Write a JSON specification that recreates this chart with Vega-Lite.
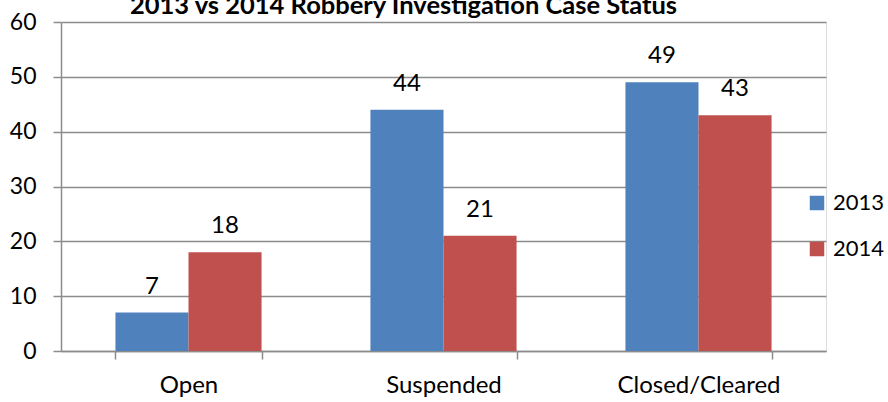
{
  "$schema": "https://vega.github.io/schema/vega-lite/v6.json",
  "width": 765,
  "height": 329,
  "autosize": {"type": "none"},
  "padding": {"left": 61, "top": 22, "right": 62, "bottom": 51},
  "background": "white",
  "title": {
    "text": "2013 vs 2014 Robbery Investigation Case Status",
    "font": "Lato",
    "fontSize": 25.5,
    "fontWeight": "bold",
    "color": "black",
    "anchor": "middle",
    "baseline": "alphabetic",
    "offset": 0,
    "dy": 28,
    "dx": -40
  },
  "data": {
    "values": [
      {"status": "Open", "year": "2013", "count": 7},
      {"status": "Open", "year": "2014", "count": 18},
      {"status": "Suspended", "year": "2013", "count": 44},
      {"status": "Suspended", "year": "2014", "count": 21},
      {"status": "Closed/Cleared", "year": "2013", "count": 49},
      {"status": "Closed/Cleared", "year": "2014", "count": 43}
    ]
  },
  "encoding": {
    "x": {
      "field": "status",
      "type": "nominal",
      "sort": ["Open", "Suspended", "Closed/Cleared"],
      "scale": {"paddingInner": 0.427, "paddingOuter": 0.2135},
      "axis": {
        "title": null,
        "labelAngle": 0,
        "labelFont": "Lato",
        "labelFontSize": 24,
        "labelColor": "black",
        "labelBaseline": "alphabetic",
        "labelPadding": 33,
        "tickBand": "extent",
        "tickSize": 8,
        "tickColor": "#8c8c8c",
        "domainColor": "#8c8c8c",
        "domainWidth": 1.5,
        "tickWidth": 1.5,
        "grid": false
      }
    },
    "xOffset": {"field": "year", "type": "nominal"},
    "y": {
      "field": "count",
      "type": "quantitative",
      "scale": {"domain": [0, 60], "nice": false},
      "axis": {
        "title": null,
        "values": [0, 10, 20, 30, 40, 50, 60],
        "labelFont": "Lato",
        "labelFontSize": 23,
        "labelColor": "black",
        "labelPadding": 17,
        "tickSize": 8,
        "tickColor": "#8c8c8c",
        "tickWidth": 1.5,
        "domainColor": "#8c8c8c",
        "domainWidth": 1.5,
        "gridColor": "#8c8c8c",
        "gridWidth": 1.5,
        "gridOpacity": 1
      }
    }
  },
  "layer": [
    {
      "mark": {"type": "bar"},
      "encoding": {
        "color": {
          "field": "year",
          "type": "nominal",
          "scale": {"domain": ["2013", "2014"], "range": ["#4F81BD", "#C0504D"]},
          "legend": {
            "title": null,
            "orient": "none",
            "legendX": 745,
            "legendY": 170,
            "padding": 0,
            "symbolType": "square",
            "symbolSize": 210,
            "symbolStrokeWidth": 0,
            "labelFont": "Lato",
            "labelFontSize": 22,
            "labelColor": "black",
            "labelOffset": 5,
            "rowPadding": 24
          }
        }
      }
    },
    {
      "mark": {
        "type": "text",
        "baseline": "alphabetic",
        "dy": -19,
        "font": "Lato",
        "fontSize": 24,
        "color": "black"
      },
      "encoding": {"text": {"field": "count", "type": "quantitative"}}
    }
  ]
}
